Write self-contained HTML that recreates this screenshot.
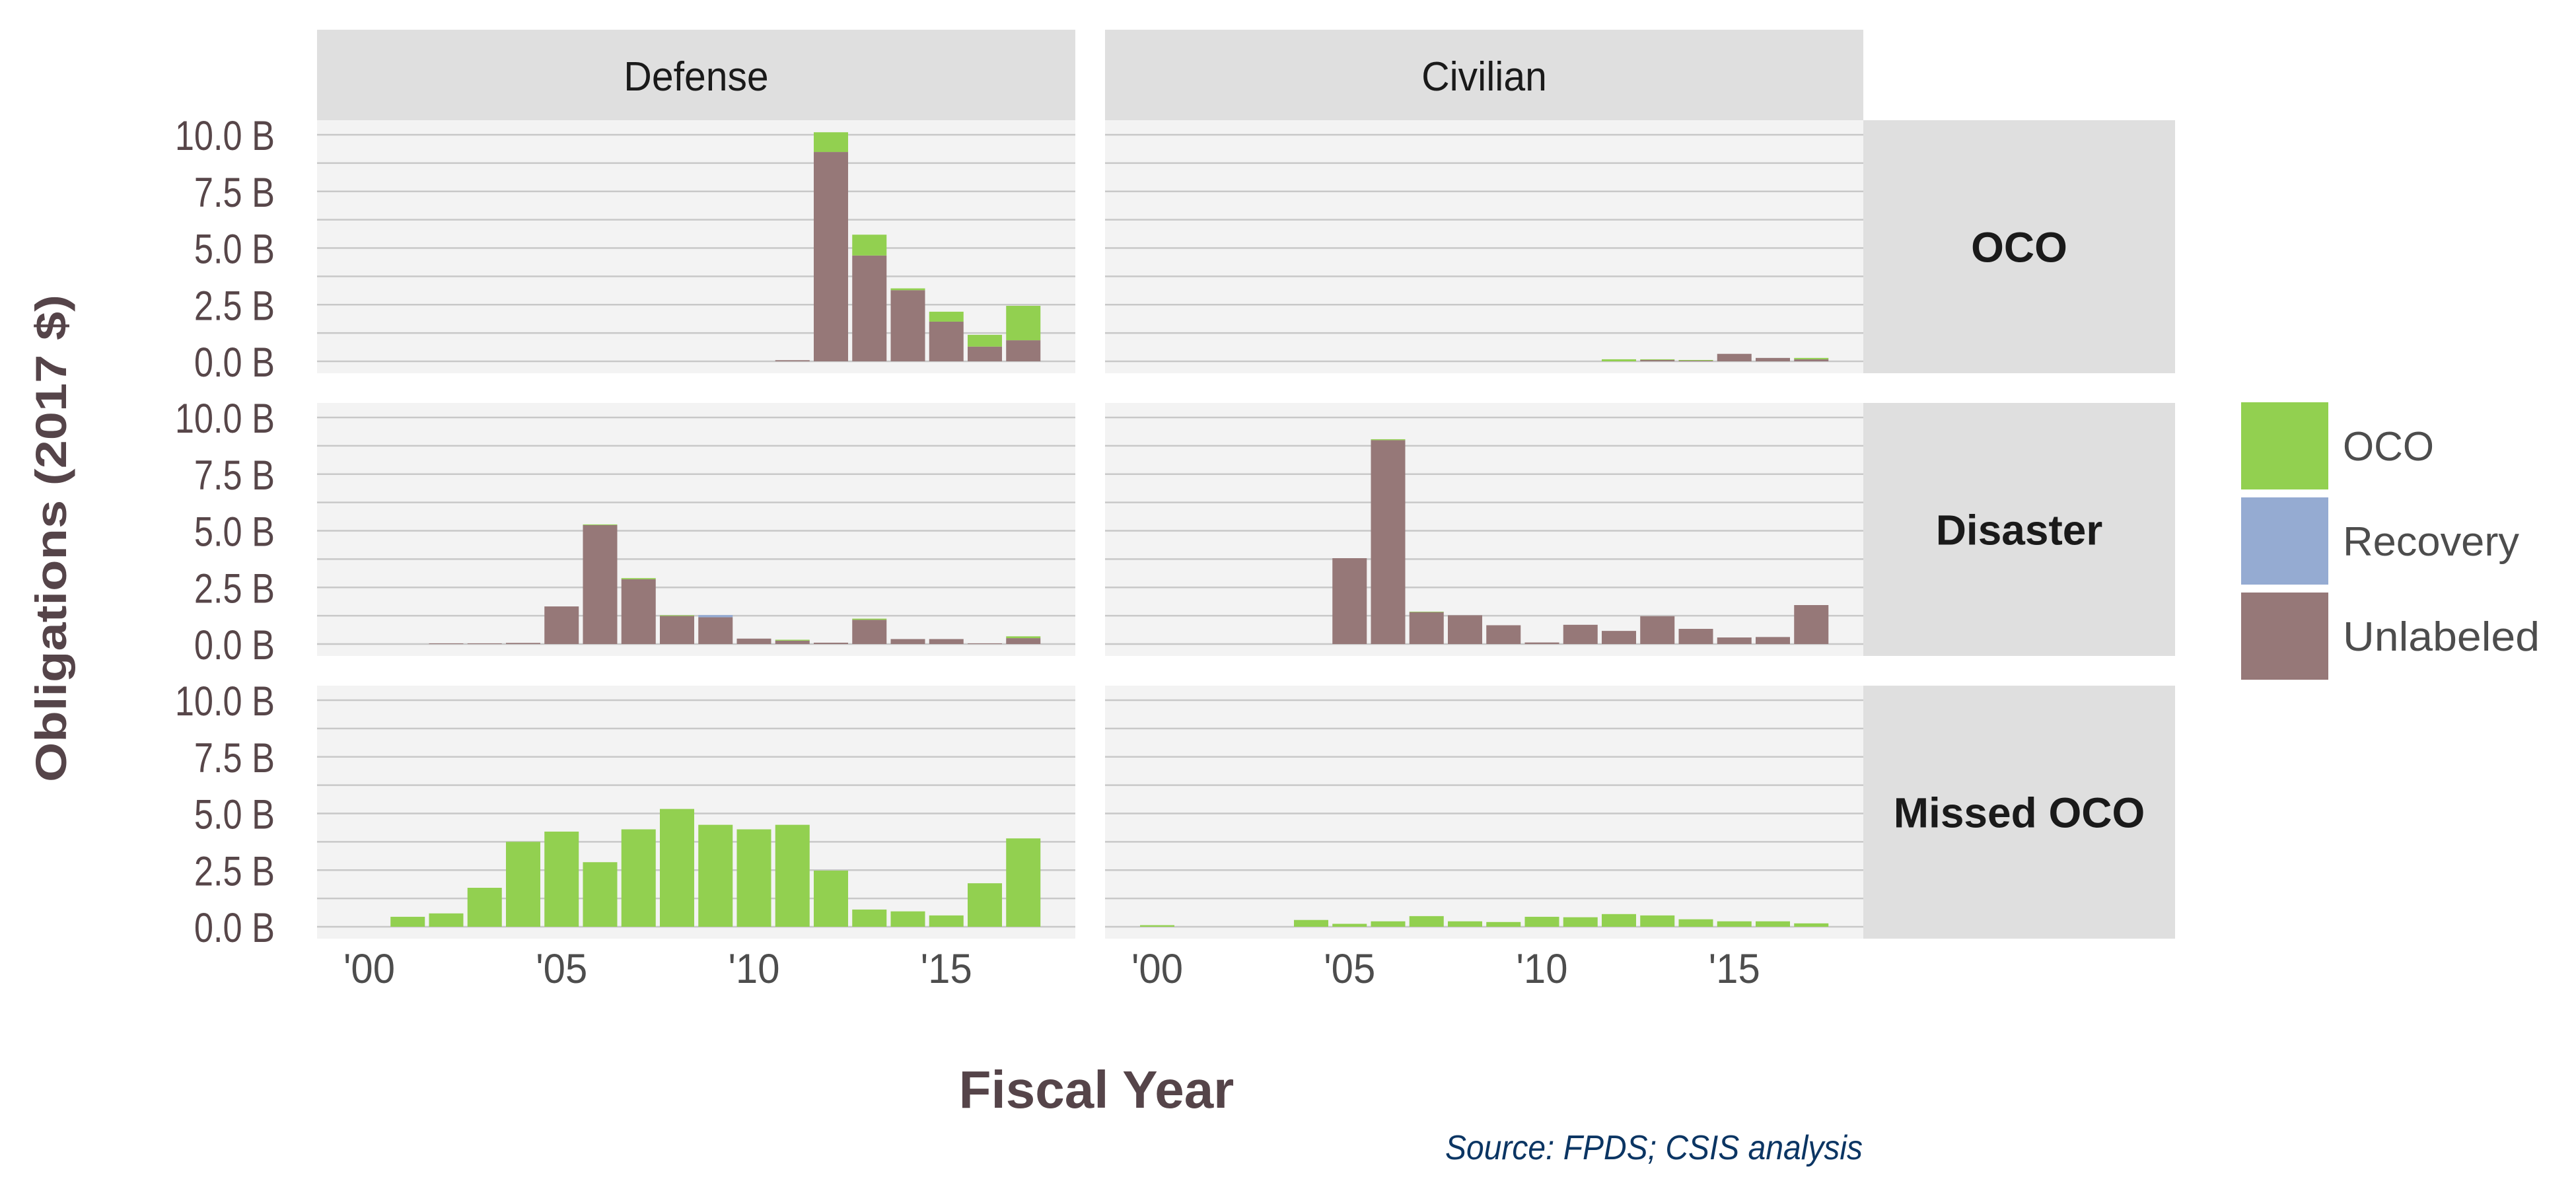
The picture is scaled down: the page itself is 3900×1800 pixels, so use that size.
<!DOCTYPE html>
<html><head><meta charset="utf-8"><style>
html,body{margin:0;padding:0;background:#fff;}
svg{display:block;font-family:"Liberation Sans",sans-serif;}
</style></head><body>
<svg id="chart" width="3900" height="1800" viewBox="0 0 3900 1800" xmlns="http://www.w3.org/2000/svg"></svg>
<script>
const years = [2000,2001,2002,2003,2004,2005,2006,2007,2008,2009,2010,2011,2012,2013,2014,2015,2016,2017];
const columns = ["Defense","Civilian"];
const rows = ["OCO","Disaster","Missed OCO"];
const seriesNames = ["Unlabeled","Recovery","OCO"];
const yTicks = [0,2.5,5,7.5,10];
const yTickLabels = ["0.0 B","2.5 B","5.0 B","7.5 B","10.0 B"];
const xTicks = [2000,2005,2010,2015];
const xTickLabels = ["'00","'05","'10","'15"];
// values in billions, by year
const defOcoUnl = [0,0,0,0,0,0,0,0,0,0,0,0.05,9.24,4.67,3.14,1.75,0.65,0.93];
const defOcoRec = [0,0,0,0,0,0,0,0,0,0,0,0,0,0,0,0,0,0];
const defOcoOco = [0,0,0,0,0,0,0,0,0,0,0,0,0.87,0.92,0.08,0.44,0.52,1.52];
const civOcoUnl = [0,0,0,0,0,0,0,0,0,0,0,0,0,0.06,0.03,0.33,0.15,0.09];
const civOcoRec = [0,0,0,0,0,0,0,0,0,0,0,0,0,0,0,0,0,0];
const civOcoOco = [0,0,0,0,0,0,0,0,0,0,0,0,0.09,0.03,0.03,0,0,0.06];
const defDisUnl = [0,0,0.03,0.03,0.05,1.66,5.25,2.86,1.24,1.18,0.24,0.15,0.06,1.07,0.22,0.22,0.03,0.26];
const defDisRec = [0,0,0,0,0,0,0,0,0,0.1,0,0,0,0,0,0,0,0];
const defDisOco = [0,0,0,0,0,0,0.03,0.05,0.03,0,0,0.04,0,0.05,0,0,0,0.08];
const civDisUnl = [0,0,0,0,0,3.79,9.0,1.41,1.27,0.83,0.07,0.85,0.58,1.23,0.67,0.29,0.31,1.72];
const civDisRec = [0,0,0,0,0,0,0,0,0,0,0,0,0,0,0,0,0,0];
const civDisOco = [0,0,0,0,0,0,0.04,0.02,0,0,0,0,0,0,0,0,0,0];
const defMisOco = [0,0.44,0.59,1.72,3.75,4.2,2.85,4.3,5.2,4.5,4.3,4.5,2.48,0.76,0.68,0.5,1.92,3.9];
const civMisOco = [0.07,0,0,0,0.30,0.13,0.24,0.47,0.24,0.21,0.44,0.42,0.56,0.50,0.33,0.24,0.24,0.15];

const colors = {Unlabeled:"#967878",Recovery:"#95abd2",OCO:"#92d050"};
const panelData = [
  [[defOcoUnl,defOcoRec,defOcoOco],[civOcoUnl,civOcoRec,civOcoOco]],
  [[defDisUnl,defDisRec,defDisOco],[civDisUnl,civDisRec,civDisOco]],
  [[null,null,defMisOco],[null,null,civMisOco]]
];
const colLeft = [480,1673], panelW = 1148;
const rowTop = [182,610,1038], panelH = 383;
const zeroOff = 365, pxPerB = 34.3, yearStep = 58.25, firstOff = 79, barW = 52;
const NS = "http://www.w3.org/2000/svg";
const svg = document.getElementById('chart');
function mk(tag, attrs, parent){const e=document.createElementNS(NS,tag);for(const k in attrs)e.setAttribute(k,attrs[k]);(parent||svg).appendChild(e);return e;}
function squeeze(t, f){const L=t.getComputedTextLength();if(L>0){t.setAttribute('textLength',L*f);t.setAttribute('lengthAdjust','spacingAndGlyphs');}}
function xScale(c, yr){return colLeft[c]+firstOff+(yr-years[0])*yearStep;}
function yScale(r, v){return rowTop[r]+zeroOff-v*pxPerB;}

columns.forEach((name,c)=>{
  const s=mk('rect',{x:colLeft[c],y:45,width:panelW,height:137,fill:'#dfdfdf'});
  
  
  const t=mk('text',{x:colLeft[c]+panelW/2,y:137,'text-anchor':'middle','font-size':62,fill:'#1a1a1a'});
  t.textContent=name;
  
  
  squeeze(t,0.95);
});
rows.forEach((name,r)=>{
  const s=mk('rect',{x:2821,y:rowTop[r],width:472,height:panelH,fill:'#dfdfdf'});
  
  
  const t=mk('text',{x:2821+236,y:rowTop[r]+panelH/2+23,'text-anchor':'middle','font-size':64,'font-weight':'bold',fill:'#1a1a1a'});
  t.textContent=name;
  
  
  yTicks.forEach((v,i)=>{
    const l=mk('text',{x:416,y:yScale(r,v)+23,'text-anchor':'end','font-size':63,fill:'#574649'});
    l.textContent=yTickLabels[i];
    
    
    squeeze(l,0.83);
  });
  columns.forEach((cn,c)=>{
    const p=mk('rect',{x:colLeft[c],y:rowTop[r],width:panelW,height:panelH,fill:'#f3f3f3'});
    
    
    for(let g=0; g<=10; g+=1.25){
      mk('line',{x1:colLeft[c],x2:colLeft[c]+panelW,y1:yScale(r,g),y2:yScale(r,g),stroke:'#c8c8c8','stroke-width':2.5});
    }
    const d=panelData[r][c];
    years.forEach((yr,i)=>{
      let base=0;
      seriesNames.forEach((sn,k)=>{
        const arr=d[k]; if(!arr) return;
        const v=arr[i]; if(!v) return;
        const b=mk('rect',{x:xScale(c,yr)-barW/2,y:yScale(r,base+v),width:barW,height:v*pxPerB,fill:colors[sn]});
        
        
        base+=v;
      });
    });
  });
});
columns.forEach((cn,c)=>{
  xTicks.forEach((yr,i)=>{
    const t=mk('text',{x:xScale(c,yr),y:1488,'text-anchor':'middle','font-size':63,fill:'#4d4d4d'});
    t.textContent=xTickLabels[i];
    
    
    squeeze(t,0.95);
  });
});
const yt=mk('text',{x:0,y:0,transform:'translate(100,815) rotate(-90)','text-anchor':'middle','font-size':66,'font-weight':'bold',fill:'#554449',textLength:738,lengthAdjust:'spacingAndGlyphs'});
yt.textContent='Obligations (2017 $)';


const xt=mk('text',{x:1660,y:1677,'text-anchor':'middle','font-size':80,'font-weight':'bold',fill:'#554449'});
xt.textContent='Fiscal Year';


const src=mk('text',{x:2820,y:1755,'text-anchor':'end','font-size':52,'font-style':'italic',fill:'#0b3563',textLength:632,lengthAdjust:'spacingAndGlyphs'});
src.textContent='Source: FPDS; CSIS analysis';


const legendItems=["OCO","Recovery","Unlabeled"];
const legendLens=[138,267,298];
legendItems.forEach((n,i)=>{
  const y0=609+i*144;
  const k=mk('rect',{x:3393,y:y0,width:132,height:132,fill:colors[n]});
  
  
  const t=mk('text',{x:3547,y:y0+88,'font-size':62,fill:'#4d4d4d',textLength:legendLens[i],lengthAdjust:'spacingAndGlyphs'});
  t.textContent=n;
  
  
});
</script>
</body></html>
